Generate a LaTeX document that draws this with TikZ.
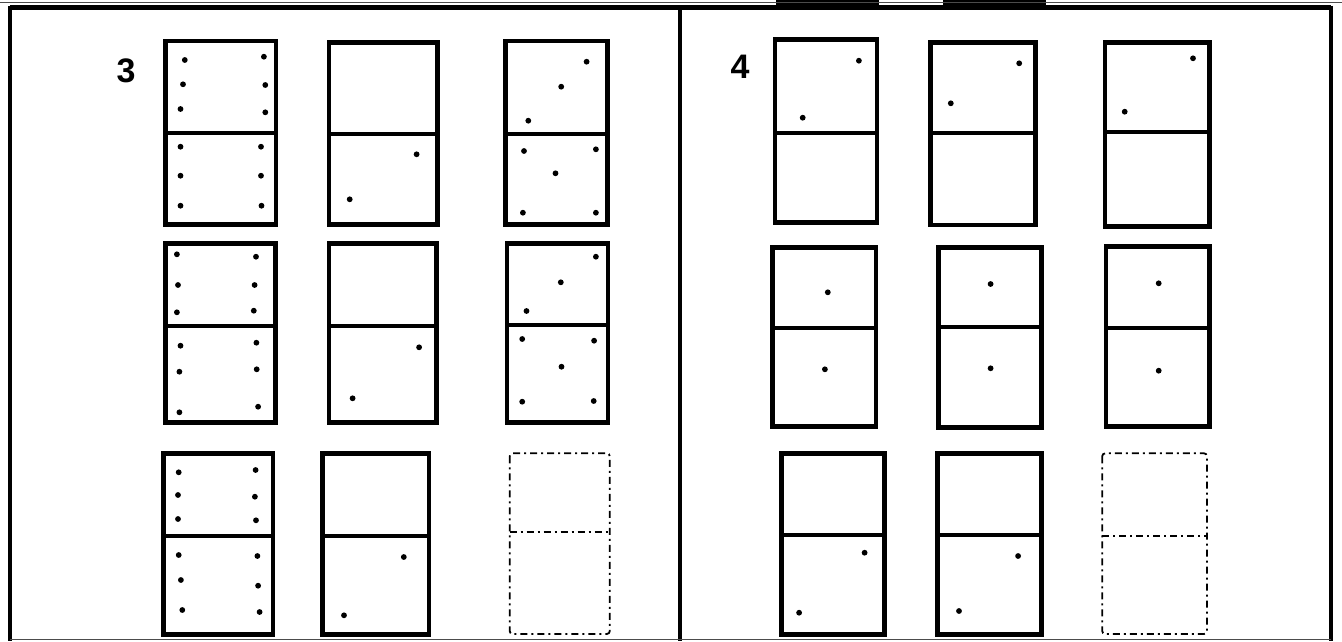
\documentclass[tikz,border=0pt]{standalone}
\usepackage{fontspec}
\setmainfont{Liberation Sans}
\tikzset{
  frameline/.style={line width=4.2pt, black},
  thinline/.style={line width=1pt, black!70},
  dombox/.style={line width=4.5pt, black, line join=miter},
  domdiv/.style={line width=4pt, black},
  ghostbox/.style={line width=1.8pt, black, dash pattern=on 7pt off 4pt on 2pt off 4pt, rounded corners=3pt},
  ghostdiv/.style={line width=1.8pt, black, dash pattern=on 7pt off 4pt on 2pt off 4pt},
  pip/.style={fill=black},
  numlabel/.style={font=\fontsize{34}{34}\selectfont\bfseries, inner sep=0pt}
}
\newcommand{\dmn}[5]{\draw[dombox] (#1,#2) rectangle (#3,#5); \draw[domdiv] (#1,#4) -- (#3,#4);}
\newcommand{\ghostdmn}[5]{\draw[ghostbox] (#1,#2) rectangle (#3,#5); \draw[ghostdiv] (#1,#4) -- (#3,#4);}
\newcommand{\pp}[2]{\fill[pip] (#1,#2) circle[radius=2.9pt];}
\begin{document}
\begin{tikzpicture}[x=1pt,y=-1pt]
\useasboundingbox (0,0) rectangle (1342,641);
% remnants at the top edge
\fill[black] (776,0) rectangle (879,6);
\fill[black] (943,0) rectangle (1046,6);
\draw[thinline] (0,2.5) -- (1342,2.5);
% frame
\draw[frameline] (10,7.5) -- (1331,7.5);
\draw[frameline] (10,5.5) -- (10,641);
\draw[frameline] (680,5.5) -- (680,641);
\draw[frameline] (1331,5.5) -- (1331,641);
\draw[thinline] (10,639.5) -- (1331,639.5);
% labels
\node[numlabel] (n3) at (126,71) {3};
\node[numlabel] (n4) at (740,67) {4};
% ---------- panel 3 ----------
% row 1
\dmn{165.5}{41}{276}{133}{224.5}
\pp{184.8}{60}\pp{263.9}{56.7}\pp{183}{84.3}\pp{265.3}{85}\pp{180.5}{109}\pp{265.3}{112.3}
\pp{180.5}{146.7}\pp{261}{146.7}\pp{180.5}{175.7}\pp{261}{175.7}\pp{180.5}{205.7}\pp{261.5}{205.7}
\dmn{329}{42.3}{437.4}{134.3}{224.5}
\pp{416.6}{154.3}\pp{349.7}{199.3}
\dmn{505.4}{41}{607.3}{134.3}{224.5}
\pp{586.6}{61.7}\pp{561.2}{86.7}\pp{528.3}{120.7}
\pp{524}{151}\pp{595.9}{149.3}\pp{555.5}{173.3}\pp{522.9}{212.7}\pp{595.9}{212.7}
% row 2
\dmn{165.5}{243.3}{275.3}{325.7}{422.7}
\pp{176.9}{254.3}\pp{256}{256.7}\pp{178}{285}\pp{254.6}{285}\pp{176.9}{312.3}\pp{253.8}{310.7}
\pp{180.5}{345.7}\pp{256.4}{342.7}\pp{179.4}{371.7}\pp{256.7}{369.3}\pp{179.4}{412.3}\pp{258.1}{406.7}
\dmn{329}{243.3}{436.3}{325.7}{422.7}
\pp{419.1}{347.3}\pp{352.6}{398.3}
\dmn{507.2}{243.3}{608}{325}{422.7}
\pp{595.9}{256.7}\pp{560.8}{282.3}\pp{526.5}{311}
\pp{522.2}{339}\pp{594.1}{340.7}\pp{561.5}{366.7}\pp{522.2}{401.7}\pp{593.7}{401}
% row 3
\dmn{163.3}{453.3}{272.8}{536}{634.5}
\pp{178.7}{472.3}\pp{255.6}{470}\pp{178}{495}\pp{254.9}{496.7}\pp{178}{519}\pp{256}{520.3}
\pp{178.7}{555}\pp{257.4}{556}\pp{180.9}{580}\pp{258.1}{585.7}\pp{182.3}{610}\pp{259.6}{612}
\dmn{322.5}{453.3}{429.2}{536}{634.5}
\pp{403.8}{557}\pp{344}{615.3}
\ghostdmn{509.7}{453.3}{609.8}{531.7}{634}
% ---------- panel 4 ----------
% row 1
\dmn{774.8}{39.3}{876.8}{132.7}{222.7}
\pp{858.9}{60.7}\pp{802.7}{117.7}
\dmn{930.4}{42.3}{1035.3}{132.7}{225}
\pp{1019.2}{63.3}\pp{950.8}{103.3}
\dmn{1105}{42.3}{1209.5}{131.7}{226.7}
\pp{1193}{58.3}\pp{1124.7}{111.7}
% row 2
\dmn{772.3}{247.7}{876}{328.3}{426.7}
\pp{827.8}{292.3}\pp{824.9}{369.3}
\dmn{938.3}{247.7}{1041.4}{326.7}{427.3}
\pp{990.6}{284}\pp{990.6}{368.3}
\dmn{1105.8}{246.7}{1209.5}{327.7}{426.7}
\pp{1158.7}{283.3}\pp{1158.7}{370.7}
% row 3
\dmn{781.3}{453.3}{884.6}{535}{634.5}
\pp{864.6}{552.7}\pp{799.1}{612.7}
\dmn{937.6}{453.3}{1041.4}{535}{634.5}
\pp{1018.1}{556}\pp{959}{611}
\ghostdmn{1102.2}{453.3}{1207}{536}{634}
\end{tikzpicture}
\end{document}
